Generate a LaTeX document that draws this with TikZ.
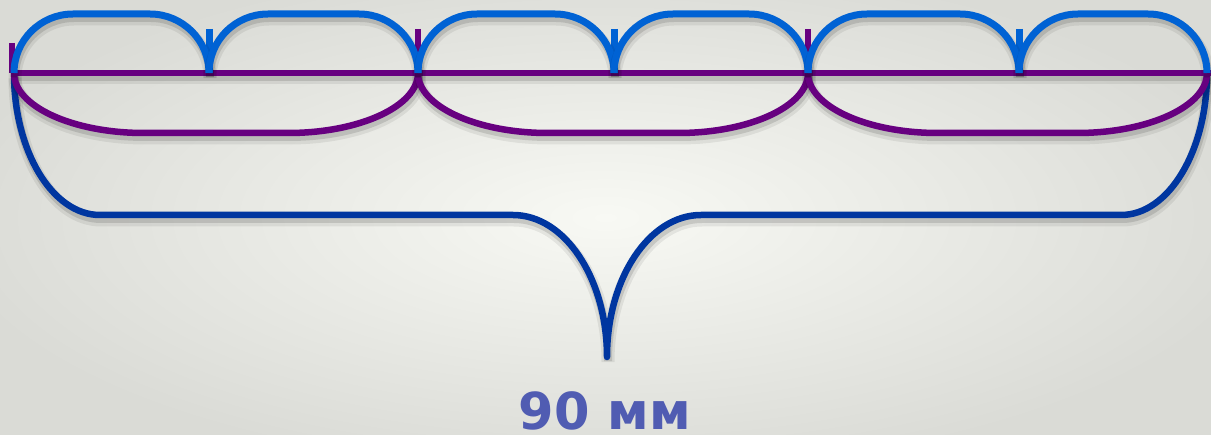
\documentclass[tikz,border=0pt]{standalone}
\usepackage{fontspec}
\newfontfamily\dvsans{DejaVu Sans}
\definecolor{bgin}{HTML}{F8F9F4}
\definecolor{bgout}{HTML}{DADBD6}
\definecolor{blueArc}{HTML}{0062D4}
\definecolor{purpleArc}{HTML}{670080}
\definecolor{braceBlue}{HTML}{0036A0}
\definecolor{labelBlue}{RGB}{80,92,178}
\tikzset{
  shadowed/.style={
    preaction={draw=black, opacity=0.07, line width=13pt, transform canvas={shift={(1pt,-5pt)}}},
    preaction={draw=black, opacity=0.12, line width=8pt, transform canvas={shift={(1pt,-4pt)}}}},
  bluestroke/.style={draw=blueArc, line width=7pt, line cap=butt, line join=round},
  purplestroke/.style={draw=purpleArc, line width=6.5pt, line cap=butt, line join=round},
  bracestroke/.style={draw=braceBlue, line width=6.5pt, line cap=round, line join=round},
  lbl/.style={text=labelBlue, font=\dvsans\bfseries\fontsize{51}{54}\selectfont, inner sep=0pt, anchor=base}
}
\newcommand{\bluearc}[2]{%
  \draw[bluestroke, shadowed] (#1,73) .. controls (#1,40.4) and ({#1+26.4},14) .. ({#1+59},14)
     -- ({#2-59},14) .. controls ({#2-26.4},14) and (#2,40.4) .. (#2,73);}
\newcommand{\purplearc}[2]{%
  \draw[purplestroke, shadowed] (#1,73) .. controls (#1,106.1) and ({#1+58.2},133) .. ({#1+130},133)
     -- ({#2-130},133) .. controls ({#2-58.2},133) and (#2,106.1) .. (#2,73);}
\begin{document}
\begin{tikzpicture}[x=1pt,y=-1pt]
  \useasboundingbox (0,0) rectangle (1211,435);
  \clip (0,0) rectangle (1211,435);
  \shade[inner color=bgin, outer color=bgout] (-60,-40) rectangle (1271,475);
  % named points
  \coordinate (L) at (14,73);
  \coordinate (R) at (1207,73);
  \coordinate (tip) at (607,357);
  % big brace
  \draw[bracestroke, shadowed] (L) .. controls (14,151.4) and (52.5,215) .. (100,215)
     -- (513,215) .. controls (564.9,215) and (607,278.6) .. (tip)
     .. controls (607,278.6) and (649.1,215) .. (701,215)
     -- (1121,215) .. controls (1168.5,215) and (1207,151.4) .. (R);
  % purple base line and ticks
  \draw[purplestroke, shadowed] (12,73) -- (1230,73);
  \draw[purplestroke] (12,43) -- (12,73);
  \draw[purplestroke] (418,29) -- (418,73);
  \draw[purplestroke] (808,29) -- (808,73);
  % purple arcs
  \purplearc{14}{418}
  \purplearc{418}{808}
  \purplearc{808}{1207}
  % blue ticks
  \draw[bluestroke] (209,29) -- (209,73);
  \draw[bluestroke] (614,29) -- (614,73);
  \draw[bluestroke] (1019,29) -- (1019,73);
  % blue arcs
  \bluearc{14}{209}
  \bluearc{209}{418}
  \bluearc{418}{614}
  \bluearc{614}{808}
  \bluearc{808}{1019}
  \bluearc{1019}{1207}
  % label
  \node[lbl] (label) at (605,430) {90 мм};
\end{tikzpicture}
\end{document}
